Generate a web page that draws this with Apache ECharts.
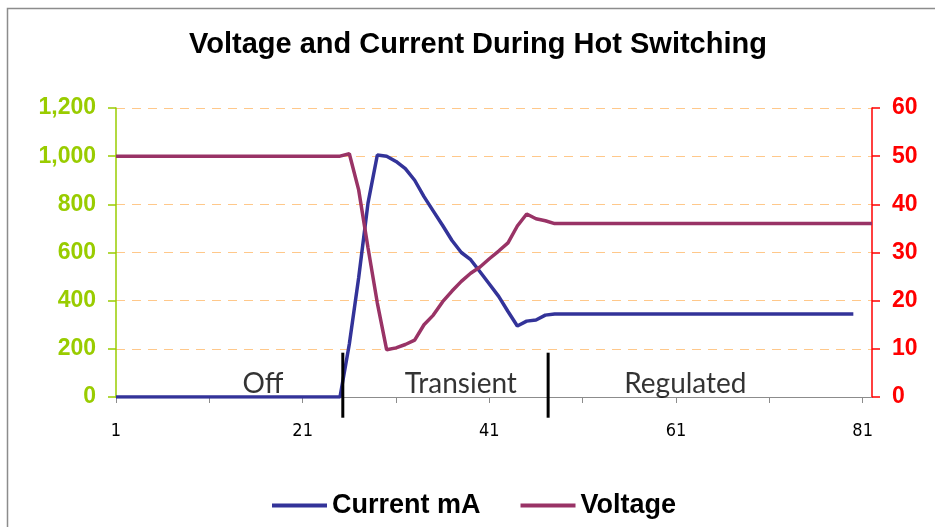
<!DOCTYPE html>
<html>
<head>
<meta charset="utf-8">
<script src="https://cdn.jsdelivr.net/npm/echarts@6/dist/echarts.min.js"></script>
<style>
  html, body { margin: 0; padding: 0; background: #fff; }
  #main { width: 935px; height: 527px; }
</style>
</head>
<body>
<div id="main"></div>
<script>
// x categories 1..82
let categories = [];
for (let i = 1; i <= 82; i++) categories.push(String(i));

// current in mA (left axis)
let currentMA = [
  0, 0, 0, 0, 0, 0, 0, 0, 0, 0,
  0, 0, 0, 0, 0, 0, 0, 0, 0, 0,
  0, 0, 0, 0, 0, 220, 495, 805, 1005, 1000,
  978, 948, 900, 832, 772, 712, 650, 600, 570, 520,
  469, 418, 355, 295, 315, 320, 340, 345, 345, 345,
  345, 345, 345, 345, 345, 345, 345, 345, 345, 345,
  345, 345, 345, 345, 345, 345, 345, 345, 345, 345,
  345, 345, 345, 345, 345, 345, 345, 345, 345, 345
];

// voltage (right axis)
let voltage = [
  50, 50, 50, 50, 50, 50, 50, 50, 50, 50,
  50, 50, 50, 50, 50, 50, 50, 50, 50, 50,
  50, 50, 50, 50, 50, 50.5, 43, 31, 19.5, 9.8,
  10.2, 10.9, 11.8, 15, 17, 19.8, 22, 24, 25.7, 27,
  28.7, 30.3, 32, 35.5, 38, 37, 36.6, 36, 36, 36,
  36, 36, 36, 36, 36, 36, 36, 36, 36, 36,
  36, 36, 36, 36, 36, 36, 36, 36, 36, 36,
  36, 36, 36, 36, 36, 36, 36, 36, 36, 36,
  36, 36
];

// phase separators (x in category units) and their vertical extent (left axis units)
let phaseMarks = [25.3, 47.3];
let markRange = [184, -86];

// phase labels: x position, y position (left axis units), text
let phaseNames = ['Off', 'Transient', 'Regulated'];
let phaseX = [16.75, 37.95, 62.0];
let phaseY = 55;

let chartDom = document.getElementById('main');
let myChart = echarts.init(chartDom);

let markSeries = phaseMarks.map(function (x) {
  return {
    type: 'line',
    xAxisIndex: 1,
    yAxisIndex: 0,
    data: [[x, markRange[0]], [x, markRange[1]]],
    symbol: 'none',
    clip: false,
    silent: true,
    lineStyle: { color: '#000', width: 3 },
    z: 5
  };
});

let option = {
  animation: false,
  graphic: [
    {
      type: 'rect',
      shape: { x: 7.5, y: 8.5, width: 1000, height: 1000 },
      style: { fill: 'none', stroke: '#8c8c8c', lineWidth: 1.5 },
      silent: true
    }
  ],
  title: {
    text: 'Voltage and Current During Hot Switching',
    left: 473,
    top: 25,
    textAlign: 'center',
    textStyle: {
      fontFamily: 'Liberation Sans',
      fontWeight: 'bold',
      fontSize: 29,
      color: '#000'
    }
  },
  legend: {
    data: ['Current mA', 'Voltage'],
    left: 267,
    top: 487,
    icon: 'rect',
    itemWidth: 55,
    itemHeight: 4,
    itemGap: 40,
    textStyle: {
      fontFamily: 'Liberation Sans',
      fontWeight: 'bold',
      fontSize: 27,
      color: '#000'
    }
  },
  grid: {
    left: 116,
    right: 63,
    top: 108,
    bottom: 130
  },
  xAxis: [
    {
      type: 'category',
      data: categories,
      boundaryGap: false,
      axisLine: { lineStyle: { color: '#8c8c8c', width: 1 } },
      axisTick: {
        interval: function (idx) { return idx % 10 === 0; },
        length: 6,
        lineStyle: { color: '#8c8c8c' }
      },
      axisLabel: {
        interval: function (idx) { return idx % 20 === 0; },
        margin: 25,
        fontFamily: "'DejaVu Sans Condensed', 'Liberation Sans', sans-serif",
        fontSize: 18,
        color: '#000'
      },
      splitLine: { show: false }
    },
    {
      type: 'value',
      min: 1,
      max: 82,
      show: false
    }
  ],
  yAxis: [
    {
      type: 'value',
      min: 0,
      max: 1200,
      interval: 200,
      axisLine: { show: true, lineStyle: { color: '#99CC00', width: 1.5 } },
      axisTick: { show: true, length: 8, lineStyle: { color: '#99CC00', width: 1.5 } },
      axisLabel: {
        margin: 20,
        fontFamily: 'Liberation Sans',
        fontWeight: 'bold',
        fontSize: 23,
        color: '#99CC00',
        formatter: function (v) { return v.toLocaleString('en-US'); }
      },
      splitLine: {
        show: true,
        lineStyle: { color: '#FFC88A', type: [9, 7], width: 1 }
      }
    },
    {
      type: 'value',
      min: 0,
      max: 60,
      interval: 10,
      position: 'right',
      axisLine: { show: true, lineStyle: { color: '#FF0000', width: 1.5 } },
      axisTick: { show: true, length: 8, lineStyle: { color: '#FF0000', width: 1.5 } },
      axisLabel: {
        margin: 20,
        fontFamily: 'Liberation Sans',
        fontWeight: 'bold',
        fontSize: 23,
        color: '#FF0000'
      },
      splitLine: { show: false }
    }
  ],
  series: [
    {
      name: 'Current mA',
      type: 'line',
      data: currentMA,
      yAxisIndex: 0,
      symbol: 'none',
      lineStyle: { color: '#333399', width: 3.5 },
      itemStyle: { color: '#333399' },
      z: 3
    },
    {
      name: 'Voltage',
      type: 'line',
      data: voltage,
      yAxisIndex: 1,
      symbol: 'none',
      lineStyle: { color: '#993366', width: 3.5 },
      itemStyle: { color: '#993366' },
      z: 3
    },
    {
      type: 'scatter',
      xAxisIndex: 1,
      yAxisIndex: 0,
      symbolSize: 0,
      silent: true,
      data: phaseNames.map(function (n, i) {
        return { name: n, value: [phaseX[i], phaseY] };
      }),
      label: {
        show: true,
        position: 'inside',
        formatter: '{b}',
        fontFamily: 'Lato',
        fontSize: 28,
        color: '#000'
      },
      z: 4
    }
  ].concat(markSeries)
};

option && myChart.setOption(option);
</script>
</body>
</html>
